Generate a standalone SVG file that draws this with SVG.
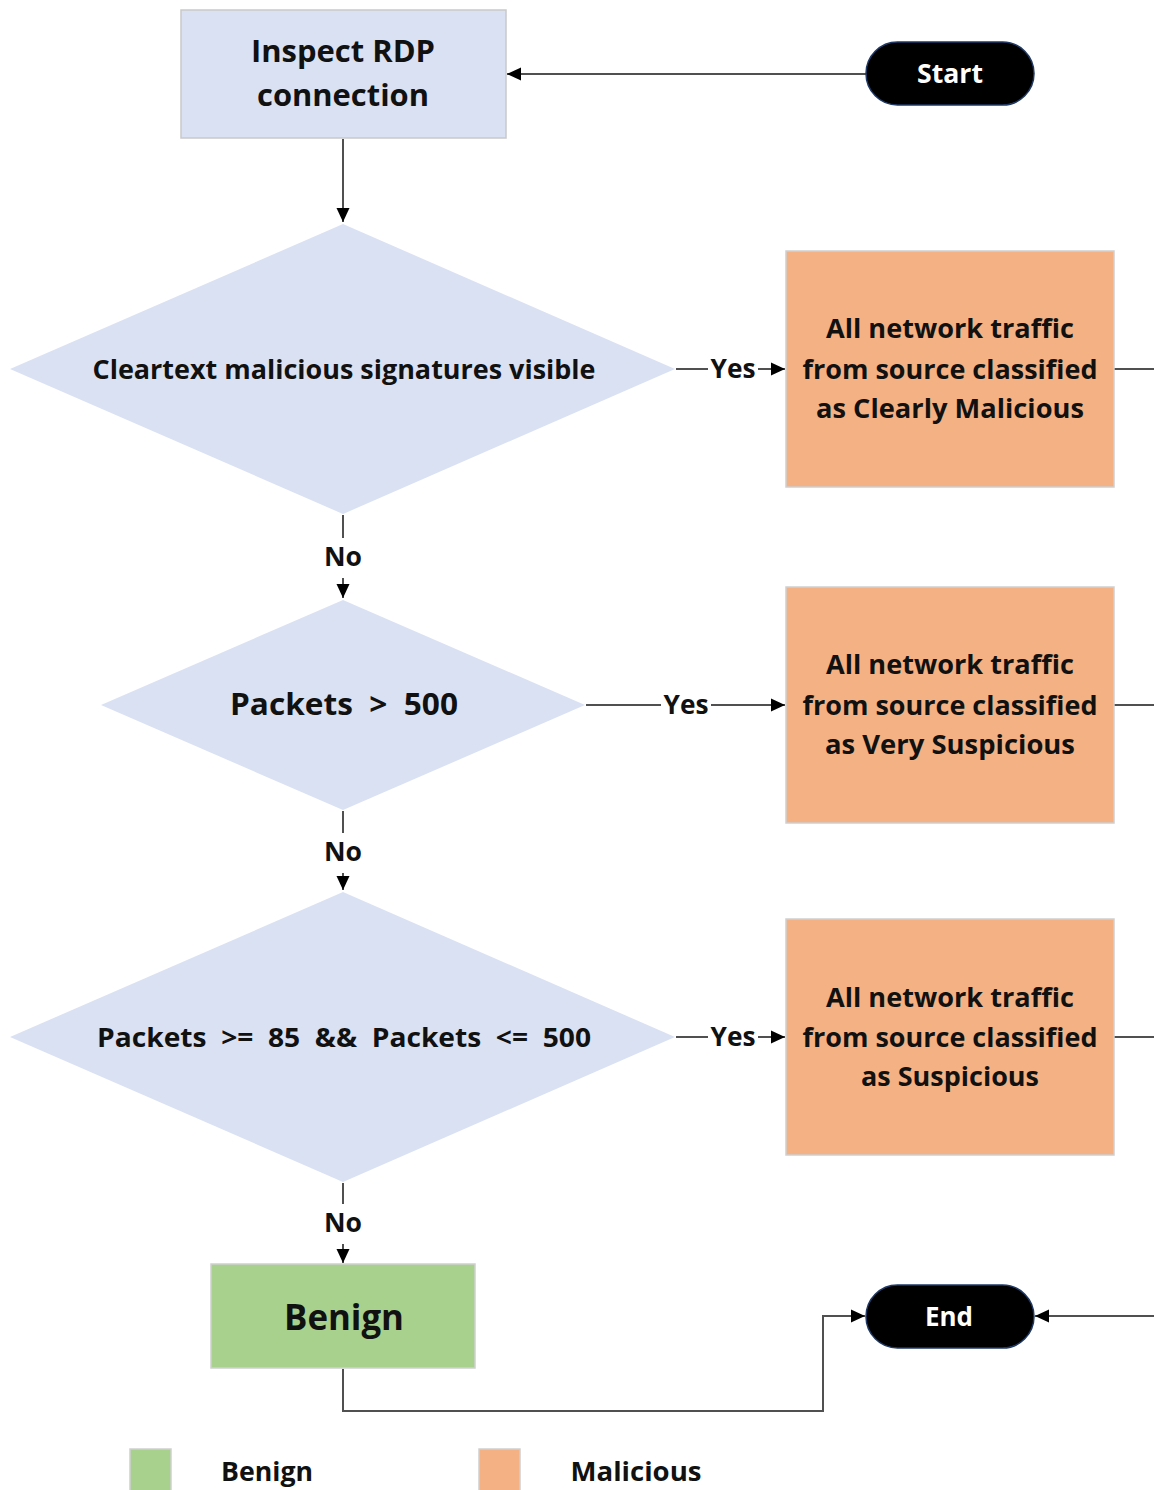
<svg xmlns="http://www.w3.org/2000/svg" width="1154" height="1490" viewBox="0 0 1154 1490">
  <style>
    text { font-family: "Open Sans", "Noto Sans", "DejaVu Sans", sans-serif; font-weight: 700; fill: #111; text-anchor: middle; white-space: pre; }
    .box { fill: #dae1f3; stroke: #c9c9c9; stroke-width: 1.5; }
    .dia { fill: #dae1f3; }
    .mal { fill: #f4b183; stroke: #cfcfcf; stroke-width: 1.5; }
    .ben { fill: #a9d18e; stroke: #cfcfcf; stroke-width: 1.5; }
    .term { fill: #000; stroke: #1f3864; stroke-width: 1.5; }
    .termtxt { fill: #fff; font-size: 27px; }
    .lbl { font-size: 26px; }
    .edge { fill: none; stroke: #505050; stroke-width: 2; }
    .gap { fill: #fff; }
  </style>
  <defs>
    <marker id="arrow" viewBox="0 0 14 14" refX="14" refY="7" markerWidth="14" markerHeight="14" markerUnits="userSpaceOnUse" orient="auto">
      <path d="M0,0.5 L14,7 L0,13.5 z" fill="#000"/>
    </marker>
  </defs>
  <rect width="1154" height="1490" fill="#fff"/>

  <!-- connectors -->
  <g id="connectors">
    <line class="edge" x1="866" y1="74" x2="507" y2="74" marker-end="url(#arrow)"/>
    <line class="edge" x1="343" y1="139" x2="343" y2="222" marker-end="url(#arrow)"/>

    <line class="edge" x1="676" y1="369" x2="785" y2="369" marker-end="url(#arrow)"/>
    <rect class="gap" x="708" y="355" width="50" height="28"/>
    <text class="lbl" x="733" y="378" textLength="45" lengthAdjust="spacingAndGlyphs">Yes</text>

    <line class="edge" x1="586" y1="705" x2="785" y2="705" marker-end="url(#arrow)"/>
    <rect class="gap" x="661" y="691" width="50" height="28"/>
    <text class="lbl" x="686" y="714" textLength="45" lengthAdjust="spacingAndGlyphs">Yes</text>

    <line class="edge" x1="676" y1="1037" x2="785" y2="1037" marker-end="url(#arrow)"/>
    <rect class="gap" x="708" y="1023" width="50" height="28"/>
    <text class="lbl" x="733" y="1046" textLength="45" lengthAdjust="spacingAndGlyphs">Yes</text>

    <line class="edge" x1="1114" y1="369" x2="1154" y2="369"/>
    <line class="edge" x1="1114" y1="705" x2="1154" y2="705"/>
    <line class="edge" x1="1114" y1="1037" x2="1154" y2="1037"/>

    <line class="edge" x1="343" y1="515" x2="343" y2="598" marker-end="url(#arrow)"/>
    <rect class="gap" x="318" y="538" width="50" height="40"/>
    <text class="lbl" x="343" y="566" textLength="38" lengthAdjust="spacingAndGlyphs">No</text>

    <line class="edge" x1="343" y1="811" x2="343" y2="890" marker-end="url(#arrow)"/>
    <rect class="gap" x="318" y="833" width="50" height="40"/>
    <text class="lbl" x="343" y="861" textLength="38" lengthAdjust="spacingAndGlyphs">No</text>

    <line class="edge" x1="343" y1="1183" x2="343" y2="1263" marker-end="url(#arrow)"/>
    <rect class="gap" x="318" y="1204" width="50" height="40"/>
    <text class="lbl" x="343" y="1232" textLength="38" lengthAdjust="spacingAndGlyphs">No</text>

    <polyline class="edge" points="343,1369 343,1411 823,1411 823,1316 865,1316" marker-end="url(#arrow)"/>
    <line class="edge" x1="1154" y1="1316" x2="1035" y2="1316" marker-end="url(#arrow)"/>
  </g>

  <!-- nodes -->
  <g id="inspect">
    <rect class="box" x="181" y="10" width="325" height="128"/>
    <text x="343" y="62" font-size="30" textLength="184" lengthAdjust="spacingAndGlyphs">Inspect RDP</text>
    <text x="343" y="106" font-size="30" textLength="172" lengthAdjust="spacingAndGlyphs">connection</text>
  </g>

  <g id="start">
    <rect class="term" x="866" y="42" width="168" height="63" rx="31.5"/>
    <text class="termtxt" x="950" y="83" textLength="66" lengthAdjust="spacingAndGlyphs">Start</text>
  </g>

  <g id="decision-cleartext">
    <polygon class="dia" points="343,224 675,369 343,514 10,369"/>
    <text x="344" y="379" font-size="27" textLength="503" lengthAdjust="spacingAndGlyphs">Cleartext malicious signatures visible</text>
  </g>

  <g id="clearly-malicious">
    <rect class="mal" x="786" y="251" width="328" height="236"/>
    <text x="950" y="338" font-size="27" textLength="248" lengthAdjust="spacingAndGlyphs">All network traffic</text>
    <text x="950" y="379" font-size="27" textLength="295" lengthAdjust="spacingAndGlyphs">from source classified</text>
    <text x="950" y="418" font-size="27" textLength="268" lengthAdjust="spacingAndGlyphs">as Clearly Malicious</text>
  </g>

  <g id="decision-packets-500">
    <polygon class="dia" points="343,600 585,705 343,810 101,705"/>
    <text x="344" y="715" font-size="30" textLength="228" lengthAdjust="spacingAndGlyphs">Packets  &gt;  500</text>
  </g>

  <g id="very-suspicious">
    <rect class="mal" x="786" y="587" width="328" height="236"/>
    <text x="950" y="674" font-size="27" textLength="248" lengthAdjust="spacingAndGlyphs">All network traffic</text>
    <text x="950" y="715" font-size="27" textLength="295" lengthAdjust="spacingAndGlyphs">from source classified</text>
    <text x="950" y="754" font-size="27" textLength="250" lengthAdjust="spacingAndGlyphs">as Very Suspicious</text>
  </g>

  <g id="decision-packets-range">
    <polygon class="dia" points="343,892 675,1037 343,1182 10,1037"/>
    <text x="344" y="1047" font-size="27" textLength="494" lengthAdjust="spacingAndGlyphs">Packets  &gt;=  85  &amp;&amp;  Packets  &lt;=  500</text>
  </g>

  <g id="suspicious">
    <rect class="mal" x="786" y="919" width="328" height="236"/>
    <text x="950" y="1007" font-size="27" textLength="248" lengthAdjust="spacingAndGlyphs">All network traffic</text>
    <text x="950" y="1047" font-size="27" textLength="295" lengthAdjust="spacingAndGlyphs">from source classified</text>
    <text x="950" y="1086" font-size="27" textLength="178" lengthAdjust="spacingAndGlyphs">as Suspicious</text>
  </g>

  <g id="benign">
    <rect class="ben" x="211" y="1264" width="264" height="104"/>
    <text x="344" y="1330" font-size="36" textLength="120" lengthAdjust="spacingAndGlyphs">Benign</text>
  </g>

  <g id="end">
    <rect class="term" x="866" y="1285" width="168" height="63" rx="31.5"/>
    <text class="termtxt" x="949" y="1326" textLength="48" lengthAdjust="spacingAndGlyphs">End</text>
  </g>

  <!-- legend -->
  <g id="legend">
    <rect class="ben" x="130" y="1449" width="41" height="42"/>
    <text x="267" y="1481" font-size="27" textLength="92" lengthAdjust="spacingAndGlyphs">Benign</text>
    <rect class="mal" x="479" y="1449" width="41" height="42"/>
    <text x="636" y="1481" font-size="27" textLength="131" lengthAdjust="spacingAndGlyphs">Malicious</text>
  </g>
</svg>
